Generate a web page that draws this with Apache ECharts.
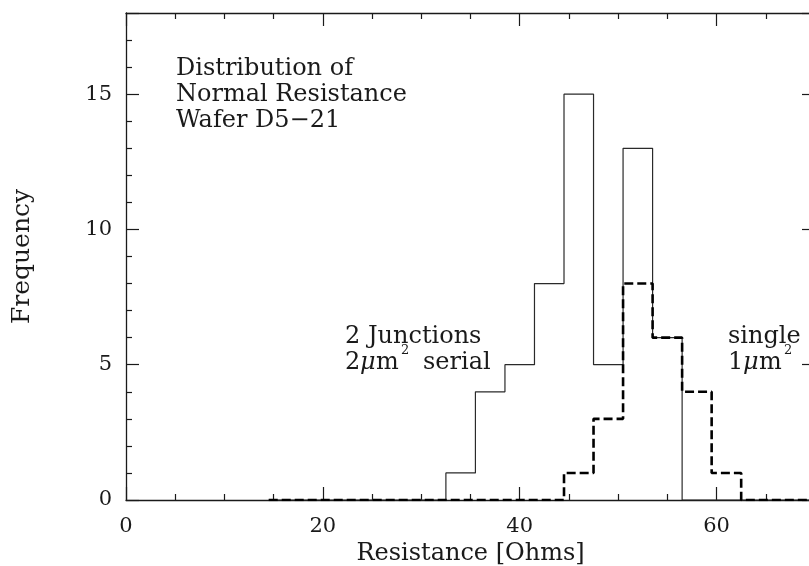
<!DOCTYPE html>
<html>
<head>
<meta charset="utf-8">
<title>Distribution of Normal Resistance</title>
<script src="https://cdn.jsdelivr.net/npm/echarts@6/dist/echarts.min.js"></script>
<style>
  html, body { margin: 0; padding: 0; background: #ffffff; }
  #chart { width: 809px; height: 566px; }
</style>
</head>
<body>
<div id="chart"></div>
<script>
// Histogram bin edges (Ohms), 3-Ohm wide bins
var binEdges = [14.5, 17.5, 20.5, 23.5, 26.5, 29.5, 32.5, 35.5, 38.5, 41.5,
                44.5, 47.5, 50.5, 53.5, 56.5, 59.5, 62.5, 65.5, 68.5, 71.5];
// Counts per bin: two junctions in series, 2 um^2 each
var serialCounts = [0, 0, 0, 0, 0, 0, 1, 4, 5, 8, 15, 5, 13, 6, 0, 0, 0, 0, 0];
// Counts per bin: single junction, 1 um^2
var singleCounts = [0, 0, 0, 0, 0, 0, 0, 0, 0, 0, 1, 3, 8, 6, 4, 1, 0, 0, 0];

var xTicks = [0, 20, 40, 60];
var yTicks = [0, 5, 10, 15];

var FONT = '"DejaVu Serif", "Liberation Serif", serif';
var INK = '#1a1a1a';

// Step outline: each bin's left edge carries its count, the last edge closes to zero
function stepPoints(counts) {
  var pts = [];
  for (var i = 0; i < counts.length; i++) pts.push([binEdges[i], counts[i]]);
  pts.push([binEdges[counts.length], 0]);
  return pts;
}

var chart = echarts.init(document.getElementById('chart'), null, { renderer: 'canvas' });

var axisLine = { show: true, onZero: false, lineStyle: { color: INK, width: 1.3 } };

function xAxisDef(pos) {
  return {
    type: 'value', position: pos, min: 0, max: 70, interval: 20,
    axisLine: axisLine,
    axisTick: { show: true, inside: true, length: 13, lineStyle: { color: INK, width: 1.2 } },
    minorTick: { show: true, splitNumber: 4, length: 6, lineStyle: { color: INK, width: 1.2 } },
    splitLine: { show: false },
    axisLabel: pos === 'bottom' ? {
      show: true, margin: 16, fontFamily: FONT, fontSize: 21, color: INK,
      formatter: function (v) { return xTicks.indexOf(v) >= 0 ? String(v) : ''; }
    } : { show: false },
    name: pos === 'bottom' ? 'Resistance [Ohms]' : '',
    nameLocation: 'middle', nameGap: 36,
    nameTextStyle: { fontFamily: FONT, fontSize: 24, color: INK }
  };
}

function yAxisDef(pos) {
  return {
    type: 'value', position: pos, min: 0, max: 18, interval: 5,
    axisLine: axisLine,
    axisTick: { show: true, inside: true, length: 13, lineStyle: { color: INK, width: 1.2 } },
    minorTick: { show: true, splitNumber: 5, length: 6, lineStyle: { color: INK, width: 1.2 } },
    splitLine: { show: false },
    axisLabel: pos === 'left' ? {
      show: true, margin: 14, fontFamily: FONT, fontSize: 21, color: INK,
      formatter: function (v) { return yTicks.indexOf(v) >= 0 ? String(v) : ''; }
    } : { show: false },
    name: pos === 'left' ? 'Frequency' : '',
    nameLocation: 'middle', nameGap: 91, nameRotate: 90,
    nameTextStyle: { fontFamily: FONT, fontSize: 25, color: INK }
  };
}

function textEl(x, y, str, size, style) {
  return {
    type: 'text', left: x, top: y, silent: true,
    style: { text: str, fontFamily: FONT, fontSize: size, fill: INK, fontStyle: style || 'normal' }
  };
}

var option = {
  animation: false,
  backgroundColor: '#ffffff',
  grid: {
    left: 126, top: 13, width: 689, height: 487,
    containLabel: false, outerBoundsMode: 'none'
  },
  xAxis: [xAxisDef('bottom'), xAxisDef('top')],
  yAxis: [yAxisDef('left'), yAxisDef('right')],
  series: [
    {
      name: '2 Junctions 2um2 serial', type: 'line', step: 'end',
      xAxisIndex: 0, yAxisIndex: 0, symbol: 'none', clip: true,
      data: stepPoints(serialCounts),
      lineStyle: { color: '#2a2a2a', width: 1.2, type: 'solid' }, z: 3
    },
    {
      name: 'single 1um2', type: 'line', step: 'end',
      xAxisIndex: 0, yAxisIndex: 0, symbol: 'none', clip: true,
      data: stepPoints(singleCounts),
      lineStyle: { color: '#000000', width: 2.6, type: [9, 4] }, z: 4
    }
  ],
  graphic: [
    {
      type: 'text', left: 176, top: 56, silent: true,
      style: {
        text: 'Distribution of\nNormal Resistance\nWafer D5\u221221',
        fontFamily: FONT, fontSize: 24, lineHeight: 26, fill: INK
      }
    },
    textEl(345, 325, '2 Junctions', 24),
    textEl(345, 351, '2', 24),
    textEl(360, 351, '\u03bc', 24, 'italic'),
    textEl(376, 351, 'm', 24),
    textEl(401, 344, '2', 13),
    textEl(423, 351, 'serial', 24),
    textEl(728, 325, 'single', 24),
    textEl(728, 351, '1', 24),
    textEl(743, 351, '\u03bc', 24, 'italic'),
    textEl(759, 351, 'm', 24),
    textEl(784, 344, '2', 13)
  ]
};

chart.setOption(option);
</script>
</body>
</html>
